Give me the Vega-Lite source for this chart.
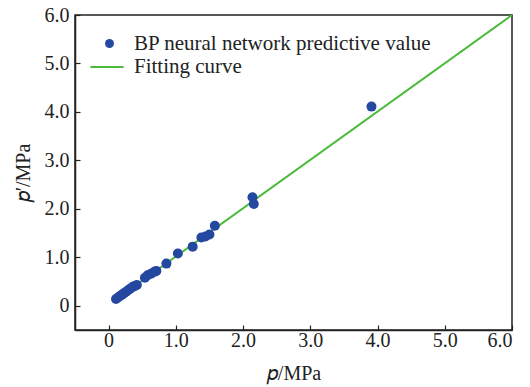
{
  "$schema": "https://vega.github.io/schema/vega-lite/v6.json",
  "width": 437,
  "height": 315,
  "autosize": {"type": "none"},
  "padding": {"left": 75, "top": 15, "right": 18, "bottom": 57},
  "config": {
    "font": "Liberation Serif",
    "view": {"stroke": "#222", "strokeWidth": 1.5},
    "axis": {
      "domainColor": "#222", "domainWidth": 1.5, "tickColor": "#222",
      "tickSize": -5, "tickWidth": 1.2, "grid": false,
      "labelFont": "Liberation Serif", "labelFontSize": 20, "labelColor": "#222",
      "titleFont": "Liberation Serif", "titleFontSize": 20, "titleFontWeight": "normal", "titleColor": "#222"
    },
    "legend": {"labelFont": "Liberation Serif", "labelFontSize": 21, "labelColor": "#222", "labelLimit": 500, "padding": 0}
  },
  "datasets": {
    "pts": [
      {"p": 0.11, "pp": 0.14, "series": "BP neural network predictive value"},
      {"p": 0.14, "pp": 0.17, "series": "BP neural network predictive value"},
      {"p": 0.17, "pp": 0.2, "series": "BP neural network predictive value"},
      {"p": 0.2, "pp": 0.23, "series": "BP neural network predictive value"},
      {"p": 0.23, "pp": 0.26, "series": "BP neural network predictive value"},
      {"p": 0.26, "pp": 0.29, "series": "BP neural network predictive value"},
      {"p": 0.29, "pp": 0.32, "series": "BP neural network predictive value"},
      {"p": 0.32, "pp": 0.35, "series": "BP neural network predictive value"},
      {"p": 0.36, "pp": 0.39, "series": "BP neural network predictive value"},
      {"p": 0.39, "pp": 0.41, "series": "BP neural network predictive value"},
      {"p": 0.42, "pp": 0.43, "series": "BP neural network predictive value"},
      {"p": 0.54, "pp": 0.58, "series": "BP neural network predictive value"},
      {"p": 0.58, "pp": 0.63, "series": "BP neural network predictive value"},
      {"p": 0.63, "pp": 0.66, "series": "BP neural network predictive value"},
      {"p": 0.68, "pp": 0.7, "series": "BP neural network predictive value"},
      {"p": 0.71, "pp": 0.72, "series": "BP neural network predictive value"},
      {"p": 0.86, "pp": 0.87, "series": "BP neural network predictive value"},
      {"p": 1.03, "pp": 1.08, "series": "BP neural network predictive value"},
      {"p": 1.25, "pp": 1.22, "series": "BP neural network predictive value"},
      {"p": 1.38, "pp": 1.41, "series": "BP neural network predictive value"},
      {"p": 1.44, "pp": 1.43, "series": "BP neural network predictive value"},
      {"p": 1.5, "pp": 1.47, "series": "BP neural network predictive value"},
      {"p": 1.58, "pp": 1.65, "series": "BP neural network predictive value"},
      {"p": 2.14, "pp": 2.24, "series": "BP neural network predictive value"},
      {"p": 2.16, "pp": 2.1, "series": "BP neural network predictive value"},
      {"p": 3.91, "pp": 4.11, "series": "BP neural network predictive value"}
    ],
    "fit": [
      {"p": 0.12, "pp": 0.14, "series": "Fitting curve"},
      {"p": 6.0, "pp": 6.0, "series": "Fitting curve"}
    ]
  },
  "layer": [
    {
      "data": {"name": "fit"},
      "mark": {"type": "line", "strokeWidth": 2, "clip": true},
      "encoding": {
        "x": {"field": "p", "type": "quantitative"},
        "y": {"field": "pp", "type": "quantitative"},
        "stroke": {
          "field": "series", "type": "nominal",
          "scale": {"domain": ["Fitting curve"], "range": ["#4cbb3c"]},
          "legend": {
            "title": null, "orient": "none", "legendX": 14, "legendY": 34,
            "symbolType": "stroke", "symbolSize": 1100, "symbolStrokeWidth": 2, "labelOffset": 9
          }
        }
      }
    },
    {
      "data": {"name": "pts"},
      "mark": {"type": "point", "filled": true, "opacity": 1, "size": 100},
      "encoding": {
        "x": {
          "field": "p", "type": "quantitative",
          "scale": {"domain": [-0.5, 6.0], "nice": false, "zero": false},
          "axis": {"values": [0, 1, 2, 3, 4, 5, 6], "labelExpr": "datum.value == 0 ? '0' : format(datum.value, '.1f')", "title": "𝑝/MPa", "labelPadding": 5, "titlePadding": 13}
        },
        "y": {
          "field": "pp", "type": "quantitative",
          "scale": {"domain": [-0.5, 6.0], "nice": false, "zero": false},
          "axis": {"values": [0, 1, 2, 3, 4, 5, 6], "labelExpr": "datum.value == 0 ? '0' : format(datum.value, '.1f')", "title": "𝑝′/MPa", "labelPadding": 11, "titlePadding": 11}
        },
        "color": {
          "field": "series", "type": "nominal",
          "scale": {"domain": ["BP neural network predictive value"], "range": ["#2448a0"]},
          "legend": {
            "title": null, "orient": "none", "legendX": 24, "legendY": 18,
            "symbolType": "circle", "symbolSize": 80, "symbolStrokeWidth": 0, "labelOffset": 14
          }
        }
      }
    }
  ]
}
